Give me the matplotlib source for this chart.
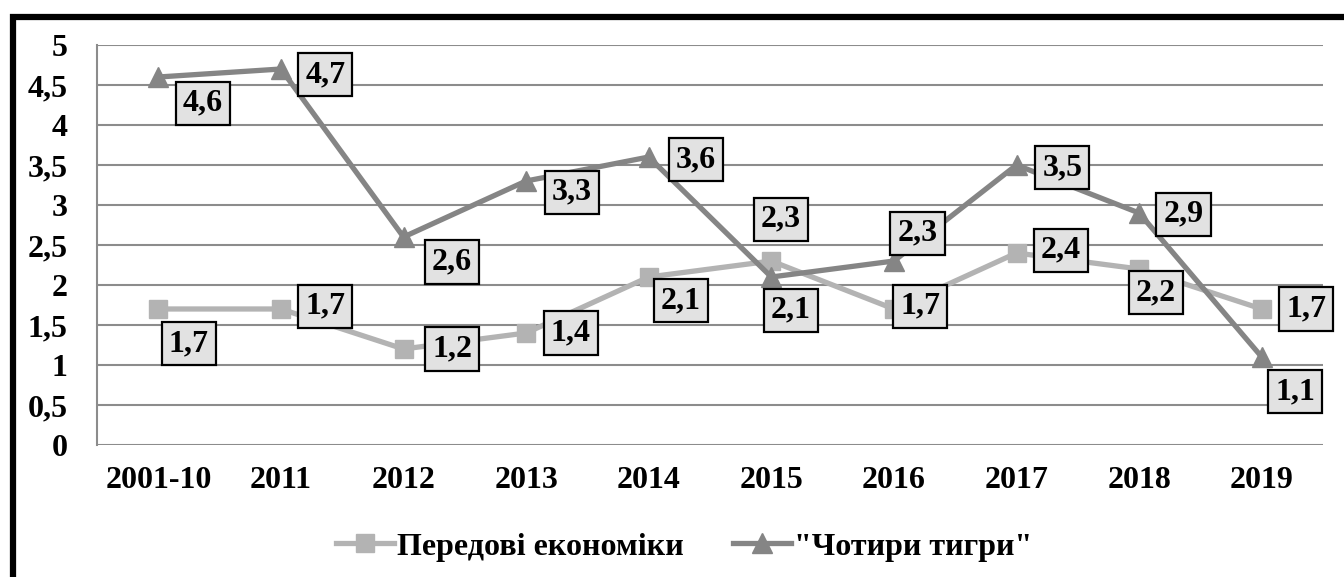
import matplotlib.pyplot as plt
from matplotlib.patches import Rectangle

# Дані
years = ['2001-10', '2011', '2012', '2013', '2014', '2015', '2016', '2017', '2018', '2019']
advanced = [1.7, 1.7, 1.2, 1.4, 2.1, 2.3, 1.7, 2.4, 2.2, 1.7]
tigers = [4.6, 4.7, 2.6, 3.3, 3.6, 2.1, 2.3, 3.5, 2.9, 1.1]
advanced_name = 'Передові економіки'
tigers_name = '"Чотири тигри"'

# зміщення підписів (у пунктах)
adv_offsets = [(22, -25), (32, 2), (35, 0), (32, 0), (23, -17), (7, 30), (19, 2), (32, 2), (12, -17), (32, 0)]
tig_offsets = [(32, -19), (32, -4), (35, -18), (33, -8), (34, -2), (14, -24), (17, 20), (33, -2), (32, -1), (24, -25)]

plt.rcParams['font.family'] = ['Liberation Serif', 'DejaVu Serif']
plt.rcParams['font.weight'] = 'bold'

fig = plt.figure(figsize=(13.44, 5.77), dpi=100)
ax = fig.add_axes([0.0722, 0.2288, 0.9122, 0.6932])

x = list(range(len(years)))
ax.plot(x, advanced, color='#b3b3b3', lw=3.8, marker='s', markersize=13, label=advanced_name, zorder=3)
ax.plot(x, tigers, color='#858585', lw=3.8, marker='^', markersize=14, label=tigers_name, zorder=4)

box = dict(boxstyle='square,pad=0.22', fc='#e2e2e2', ec='black', lw=1.6)
for xi, v, off in zip(x, advanced, adv_offsets):
    ax.annotate(f'{v:.1f}'.replace('.', ','), (xi, v), xytext=off, textcoords='offset points',
                ha='center', va='center', fontsize=23, fontweight='bold', bbox=box, zorder=6)
for xi, v, off in zip(x, tigers, tig_offsets):
    ax.annotate(f'{v:.1f}'.replace('.', ','), (xi, v), xytext=off, textcoords='offset points',
                ha='center', va='center', fontsize=23, fontweight='bold', bbox=box, zorder=6)

ax.set_xlim(-0.5, 9.5)
ax.set_ylim(0, 5)
yt = [0, 0.5, 1, 1.5, 2, 2.5, 3, 3.5, 4, 4.5, 5]
ax.set_yticks(yt)
ax.set_yticklabels([f'{t:g}'.replace('.', ',') for t in yt], fontsize=23, fontweight='bold')
ax.set_xticks(x)
ax.set_xticklabels(years, fontsize=23, fontweight='bold')
ax.tick_params(length=0)
ax.tick_params(axis='y', pad=21)
ax.tick_params(axis='x', pad=15)
ax.grid(axis='y', color='#8c8c8c', lw=1.5)
ax.set_axisbelow(True)
for s in ['top', 'right', 'bottom']:
    ax.spines[s].set_visible(False)
ax.spines['left'].set_color('#8c8c8c')
ax.spines['left'].set_linewidth(1.5)

ax.legend(loc='center', bbox_to_anchor=(0.479, -0.255), ncol=2, frameon=False,
          prop={'size': 23, 'weight': 'bold'}, handlelength=1.8, handletextpad=0.1, columnspacing=1.55)

# рамка
fig.patches.append(Rectangle((0.0095, -0.2), 1.2, 1.17, transform=fig.transFigure,
                             fill=False, ec='black', lw=4.5))

plt.savefig('out.png', dpi=100)
